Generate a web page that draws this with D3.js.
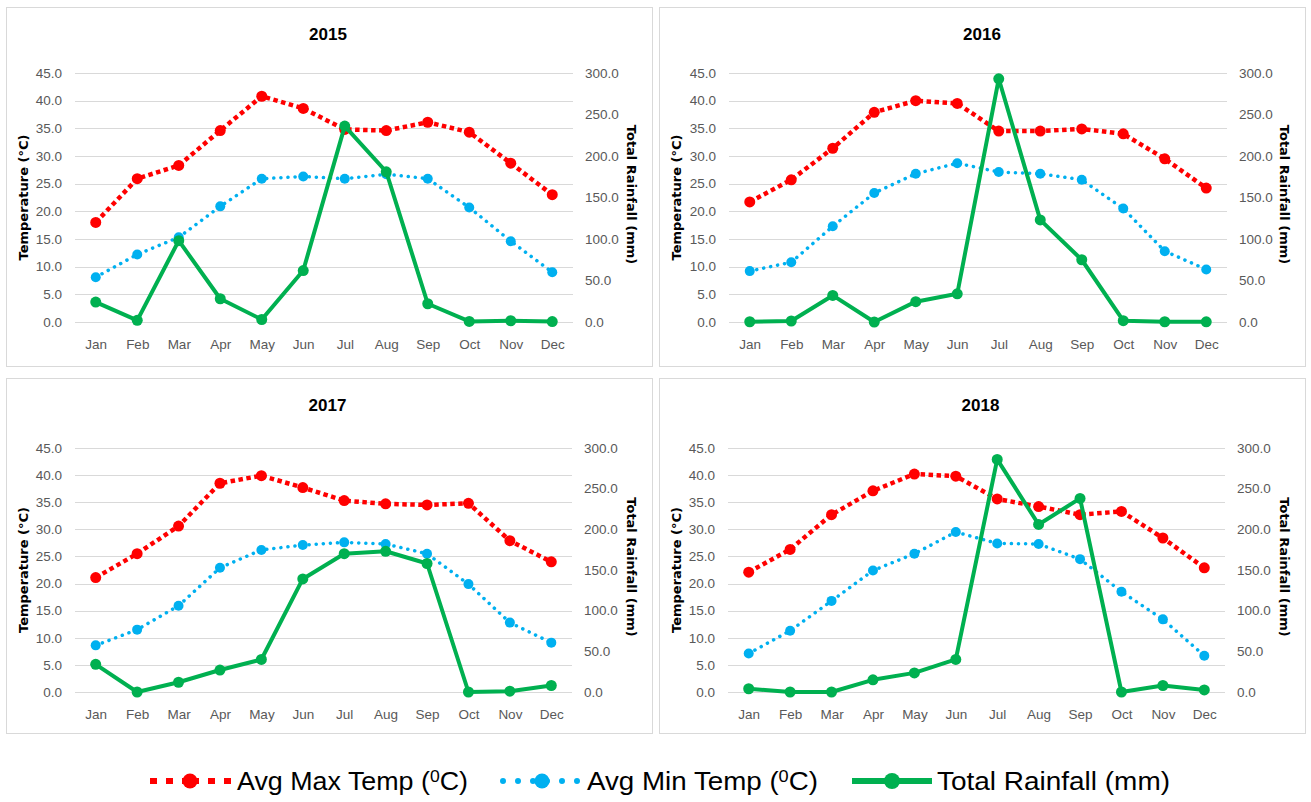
<!DOCTYPE html>
<html>
<head>
<meta charset="utf-8">
<script src="https://cdn.jsdelivr.net/npm/d3@7"></script>
<style>
  html, body { margin: 0; padding: 0; background: #fff; }
  svg { display: block; }
</style>
</head>
<body>
<svg id="chart" width="1311" height="802"></svg>
<script>
// Monthly climate summary, 2015–2018
const months = ["Jan","Feb","Mar","Apr","May","Jun","Jul","Aug","Sep","Oct","Nov","Dec"];
const years = ["2015","2016","2017","2018"];

const tempTicks = [0,5,10,15,20,25,30,35,40,45];
const rainTicks = [0,50,100,150,200,250,300];

// Average maximum temperature (°C)
const maxTemp2015 = [18.0,25.9,28.3,34.6,40.8,38.6,34.8,34.6,36.1,34.3,28.7,23.0];
const maxTemp2016 = [21.7,25.7,31.4,37.9,40.0,39.5,34.5,34.5,34.9,34.0,29.5,24.2];
const maxTemp2017 = [21.1,25.5,30.6,38.5,39.9,37.7,35.3,34.7,34.5,34.8,27.9,24.0];
const maxTemp2018 = [22.1,26.3,32.7,37.1,40.2,39.8,35.6,34.2,32.7,33.3,28.4,22.9];

// Average minimum temperature (°C)
const minTemp2015 = [8.1,12.2,15.3,20.9,25.9,26.3,25.9,26.7,25.9,20.7,14.6,9.0];
const minTemp2016 = [9.2,10.8,17.3,23.3,26.8,28.7,27.1,26.8,25.7,20.5,12.8,9.5];
const minTemp2017 = [8.6,11.5,15.9,22.9,26.2,27.1,27.6,27.3,25.5,19.9,12.8,9.1];
const minTemp2018 = [7.1,11.3,16.8,22.4,25.5,29.5,27.4,27.3,24.5,18.5,13.4,6.7];

// Total rainfall (mm)
const rain2015 = [24,2,98,28,3,62,236,181,22,0.7,1.5,0.5];
const rain2016 = [0.3,1.2,32,0,24.5,34,293,123,75,1.6,0.3,0.2];
const rain2017 = [34,0,12,27,40,139,170,173,158,0,1,8];
const rain2018 = [4,0,0,15,23.5,40,286,206,238,0,8,2.5];

const maxTemps = [maxTemp2015, maxTemp2016, maxTemp2017, maxTemp2018];
const minTemps = [minTemp2015, minTemp2016, minTemp2017, minTemp2018];
const rains = [rain2015, rain2016, rain2017, rain2018];

const seriesNames = ["Avg Max Temp (", "Avg Min Temp (", "Total Rainfall (mm)"];

const RED = "#FF0000", BLUE = "#00B0F0", GREEN = "#00B050";
const SANS = "'Liberation Sans', Arial, sans-serif";
const BOLDWIDE = "'DejaVu Sans', Verdana, sans-serif";

const svg = d3.select("#chart");

// Panel frames and the plot-area box inside each
const panels = [
  {x: 6,   y: 7,   w: 646, h: 359, left: 75,  right: 573, top: 73,  bottom: 322},
  {x: 659, y: 7,   w: 646, h: 359, left: 729, right: 1227, top: 73,  bottom: 322},
  {x: 6,   y: 378, w: 646, h: 355, left: 75,  right: 572, top: 448, bottom: 692},
  {x: 659, y: 378, w: 646, h: 355, left: 728, right: 1225, top: 448, bottom: 692}
];

const maxStyle = {color: RED, width: 4.5, dash: "4.5,3.5", cap: "butt", r: 5.5};
const minStyle = {color: BLUE, width: 3.5, dash: "0.1,7", cap: "round", r: 5};
const rainStyle = {color: GREEN, width: 4, dash: null, cap: "round", r: 5.5};

function drawPanel(i) {
  const p = panels[i];
  const g = svg.append("g");

  g.append("rect")
    .attr("x", p.x + 0.5).attr("y", p.y + 0.5)
    .attr("width", p.w).attr("height", p.h)
    .attr("fill", "#fff").attr("stroke", "#d9d9d9").attr("stroke-width", 1);

  const x = d3.scalePoint().domain(months).range([p.left, p.right]).padding(0.5);
  const yT = d3.scaleLinear().domain([0, 45]).range([p.bottom, p.top]);
  const yR = d3.scaleLinear().domain([0, 300]).range([p.bottom, p.top]);

  // gridlines
  g.append("g").selectAll("line").data(tempTicks).join("line")
    .attr("x1", p.left).attr("x2", p.right)
    .attr("y1", d => Math.round(yT(d)) + 0.5).attr("y2", d => Math.round(yT(d)) + 0.5)
    .attr("stroke", "#d9d9d9").attr("stroke-width", 1.2);

  // left axis
  const axL = g.append("g").attr("transform", `translate(${p.left - 10},0)`)
    .call(d3.axisLeft(yT).tickValues(tempTicks).tickFormat(d3.format(".1f")).tickSize(0));
  axL.select(".domain").remove();
  axL.selectAll("text").attr("fill", "#595959").attr("font-size", 13.5)
    .attr("font-family", SANS);

  // right axis
  const axR = g.append("g").attr("transform", `translate(${p.right + 9},0)`)
    .call(d3.axisRight(yR).tickValues(rainTicks).tickFormat(d3.format(".1f")).tickSize(0));
  axR.select(".domain").remove();
  axR.selectAll("text").attr("fill", "#595959").attr("font-size", 13.5)
    .attr("font-family", SANS);

  // bottom axis
  const axB = g.append("g").attr("transform", `translate(0,${p.bottom + 14})`)
    .call(d3.axisBottom(x).tickSize(0));
  axB.select(".domain").remove();
  axB.selectAll("text").attr("fill", "#595959").attr("font-size", 13.5)
    .attr("font-family", SANS);

  // title
  g.append("text")
    .attr("x", (p.left + p.right) / 2 + 4).attr("y", p.y + 33)
    .attr("text-anchor", "middle")
    .attr("font-family", SANS).attr("font-weight", "bold")
    .attr("font-size", 17).attr("fill", "#000")
    .text(years[i]);

  const midY = (p.top + p.bottom) / 2;
  // axis titles
  g.append("text")
    .attr("transform", `translate(${p.x + 22},${midY}) rotate(-90)`)
    .attr("text-anchor", "middle")
    .attr("font-family", BOLDWIDE).attr("font-weight", "bold")
    .attr("font-size", 13).attr("fill", "#000")
    .text("Temperature (°C)");
  g.append("text")
    .attr("transform", `translate(${p.x + p.w - 25},${midY - 3}) rotate(90)`)
    .attr("text-anchor", "middle")
    .attr("font-family", BOLDWIDE).attr("font-weight", "bold")
    .attr("font-size", 13).attr("fill", "#000")
    .text("Total Rainfall (mm)");

  const series = [
    {vals: maxTemps[i], y: yT, s: maxStyle},
    {vals: minTemps[i], y: yT, s: minStyle},
    {vals: rains[i], y: yR, s: rainStyle}
  ];

  series.forEach(se => {
    const line = d3.line().x((d, j) => x(months[j])).y(d => se.y(d));
    g.append("path")
      .datum(se.vals)
      .attr("d", line)
      .attr("fill", "none")
      .attr("stroke", se.s.color)
      .attr("stroke-width", se.s.width)
      .attr("stroke-linecap", se.s.cap)
      .attr("stroke-linejoin", "round")
      .attr("stroke-dasharray", se.s.dash);
    g.append("g").selectAll("circle").data(se.vals).join("circle")
      .attr("cx", (d, j) => x(months[j]))
      .attr("cy", d => se.y(d))
      .attr("r", se.s.r)
      .attr("fill", se.s.color);
  });
}

panels.forEach((p, i) => drawPanel(i));

// legend: each swatch is drawn as two halves running from its ends in to the marker
const legendY = 781;
const legendItems = [
  {color: RED,   x0: 150, xm: 190, x1: 231, lw: 6, dash: "7,9",  cap: "butt",  r: 7.5, tx: 237, tw: 231, name: seriesNames[0], sup: true},
  {color: BLUE,  x0: 503, xm: 542, x1: 577, lw: 6, dash: "0,15", cap: "round", r: 7.5, tx: 587, tw: 231, name: seriesNames[1], sup: true},
  {color: GREEN, x0: 852, xm: 892, x1: 932, lw: 6, dash: null,   cap: "butt",  r: 8,   tx: 937, tw: 233, name: seriesNames[2], sup: false}
];
const lg = svg.append("g");
legendItems.forEach(it => {
  [[it.x0, it.xm], [it.x1, it.xm]].forEach(([a, b]) => {
    lg.append("line")
      .attr("x1", a).attr("x2", b)
      .attr("y1", legendY).attr("y2", legendY)
      .attr("stroke", it.color)
      .attr("stroke-width", it.lw)
      .attr("stroke-linecap", it.cap)
      .attr("stroke-dasharray", it.dash);
  });
  lg.append("circle")
    .attr("cx", it.xm).attr("cy", legendY)
    .attr("r", it.r).attr("fill", it.color);
  const t = lg.append("text")
    .attr("x", it.tx).attr("y", legendY + 9)
    .attr("font-family", SANS).attr("font-size", 26).attr("fill", "#000")
    .attr("textLength", it.tw).attr("lengthAdjust", "spacingAndGlyphs");
  t.append("tspan").text(it.name);
  if (it.sup) {
    t.append("tspan").attr("font-size", 17).attr("dy", -8).text("0");
    t.append("tspan").attr("dy", 8).text("C)");
  }
});
</script>
</body>
</html>
